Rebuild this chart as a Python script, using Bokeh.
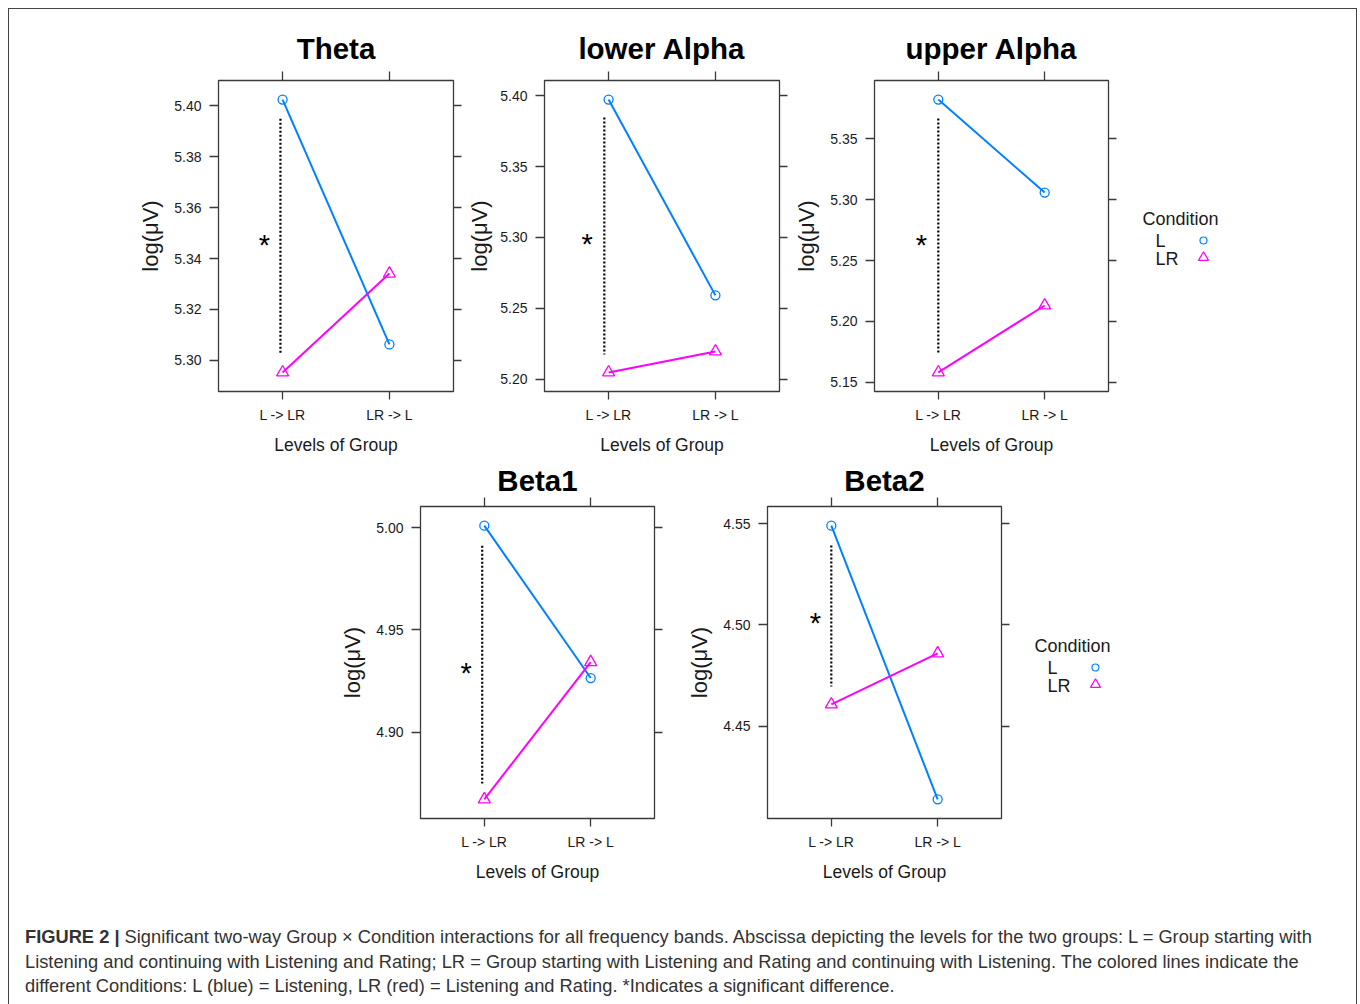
from bokeh.plotting import figure
from bokeh.layouts import row, column
from bokeh.models import Range1d, LinearAxis, FixedTicker, Spacer, Div, NumeralTickFormatter
from bokeh.embed import file_html
from bokeh.resources import INLINE
from bokeh.core.properties import value

# ---------------- data ----------------
groups = ["L -> LR", "LR -> L"]
conditions = ["L", "LR"]
bands = ["Theta", "lower Alpha", "upper Alpha", "Beta1", "Beta2"]

theta_L = [5.4024, 5.3063]
theta_LR = [5.2953, 5.3341]
lowalpha_L = [5.3972, 5.2592]
lowalpha_LR = [5.2049, 5.2197]
upalpha_L = [5.3820, 5.3057]
upalpha_LR = [5.1582, 5.2131]
beta1_L = [5.0010, 4.9265]
beta1_LR = [4.8672, 4.9343]
beta2_L = [4.5490, 4.4140]
beta2_LR = [4.4608, 4.4860]

theta_ticks = [5.30, 5.32, 5.34, 5.36, 5.38, 5.40]
lowalpha_ticks = [5.20, 5.25, 5.30, 5.35, 5.40]
upalpha_ticks = [5.15, 5.20, 5.25, 5.30, 5.35]
beta1_ticks = [4.90, 4.95, 5.00]
beta2_ticks = [4.45, 4.50, 4.55]

# significance marker: dotted span (y from, y to), its x position and the star position
sig_span = [[5.3949, 5.3024], [5.3845, 5.2176], [5.3664, 5.1730], [4.9912, 4.8750], [4.5392, 4.4697]]
sig_x = [0.98, 0.96, 1.00, 0.98, 1.00]
star_x = [0.83, 0.80, 0.84, 0.83, 0.85]
star_y = [5.347, 5.298, 5.266, 4.931, 4.503]

L_series = [theta_L, lowalpha_L, upalpha_L, beta1_L, beta2_L]
LR_series = [theta_LR, lowalpha_LR, upalpha_LR, beta1_LR, beta2_LR]
tick_sets = [theta_ticks, lowalpha_ticks, upalpha_ticks, beta1_ticks, beta2_ticks]

BLUE = "#0080ff"
MAGENTA = "#ff00ff"
FRAME = "#3a3a3a"
TXT = "#1a1a1a"
FONT = "Liberation Sans"

xs = [i + 1 for i in range(len(groups))]


def panel(i, width, height, bl, br, bt, bb, title_standoff, ylab_standoff=8):
    vals = L_series[i] + LR_series[i]
    lo, hi = min(vals), max(vals)
    pad = 0.07 * (hi - lo)
    p = figure(width=width, height=height,
               x_range=Range1d(0.4, 2.6), y_range=Range1d(lo - pad, hi + pad),
               output_backend="svg", toolbar_location=None,
               min_border_left=bl, min_border_right=br,
               min_border_top=bt, min_border_bottom=bb,
               title=bands[i],
               x_axis_label="Levels of Group", y_axis_label="log(\u03bcV)")
    p.grid.visible = False
    p.outline_line_color = FRAME
    p.outline_line_width = 1.3
    p.background_fill_color = "white"
    p.border_fill_color = "white"

    p.title.text_font = FONT
    p.title.text_font_size = "29.5px"
    p.title.text_font_style = "bold"
    p.title.text_color = "black"
    p.title.align = "center"
    p.title.standoff = title_standoff

    xt = FixedTicker(ticks=xs)
    yt = FixedTicker(ticks=tick_sets[i])

    xa = p.xaxis[0]
    xa.ticker = xt
    xa.major_label_overrides = {x: g for x, g in zip(xs, groups)}
    ya = p.yaxis[0]
    ya.ticker = yt
    ya.formatter = NumeralTickFormatter(format="0.00")

    for ax, tick_len in ((xa, 8), (ya, 9)):
        ax.axis_line_color = None
        ax.major_tick_out = tick_len
        ax.major_tick_in = 0
        ax.minor_tick_out = 0
        ax.minor_tick_in = 0
        ax.major_tick_line_color = FRAME
        ax.major_tick_line_width = 1.3
        ax.major_label_text_font = FONT
        ax.major_label_text_font_size = "14px"
        ax.major_label_text_color = TXT
        ax.axis_label_text_font = FONT
        ax.axis_label_text_font_style = "normal"
        ax.axis_label_text_color = TXT
    xa.major_label_standoff = 7
    xa.axis_label_standoff = 9
    xa.axis_label_text_font_size = "17.5px"
    ya.major_label_standoff = 8
    ya.axis_label_standoff = ylab_standoff
    ya.axis_label_text_font_size = "22px"

    # right and top ticks (no labels)
    ra = LinearAxis(ticker=yt, axis_line_color=None, major_tick_out=8, major_tick_in=0,
                    minor_tick_out=0, minor_tick_in=0, major_tick_line_color=FRAME,
                    major_tick_line_width=1.3, major_label_text_font_size="1px",
                    major_label_overrides={t: "" for t in tick_sets[i]},
                    major_label_standoff=0)
    ta = LinearAxis(ticker=xt, axis_line_color=None, major_tick_out=9, major_tick_in=0,
                    minor_tick_out=0, minor_tick_in=0, major_tick_line_color=FRAME,
                    major_tick_line_width=1.3, major_label_text_font_size="1px",
                    major_label_overrides={x: "" for x in xs},
                    major_label_standoff=0)
    p.add_layout(ra, "right")
    p.add_layout(ta, "above")

    # significance dotted line and star
    p.line(x=[sig_x[i], sig_x[i]], y=sig_span[i], line_color="black",
           line_width=2.2, line_dash="2 2")
    p.text(x=[star_x[i]], y=[star_y[i]], text=["*"], text_font=value(FONT),
           text_font_size="29px", text_align="center", text_baseline="middle",
           text_color="black", y_offset=4)

    # series
    p.line(x=xs, y=L_series[i], line_color=BLUE, line_width=2)
    p.scatter(x=xs, y=L_series[i], marker="circle", size=9, fill_color=None,
              line_color=BLUE, line_width=1.3)
    p.line(x=xs, y=LR_series[i], line_color=MAGENTA, line_width=2)
    p.scatter(x=xs, y=LR_series[i], marker="triangle", size=12, fill_color=None,
              line_color=MAGENTA, line_width=1.3)
    return p


def legend_fig(width, height, bt, bb, lx, ty):
    fh = height - bt - bb
    lf = figure(width=width, height=height, x_range=Range1d(0, width), y_range=Range1d(fh, 0),
                output_backend="svg", toolbar_location=None,
                min_border_left=0, min_border_right=0, min_border_top=bt, min_border_bottom=bb,
                x_axis_type=None, y_axis_type=None)
    lf.grid.visible = False
    lf.outline_line_color = None
    lf.text(x=[lx], y=[ty], text=["Condition"], text_font=value(FONT),
            text_font_size="18px", text_baseline="middle", text_color=TXT)
    lf.text(x=[lx + 13, lx + 13], y=[ty + 22, ty + 40], text=conditions, text_font=value(FONT),
            text_font_size="18px", text_baseline="middle", text_color=TXT)
    lf.scatter(x=[lx + 61], y=[ty + 22], marker="circle", size=7, fill_color=None,
               line_color=BLUE, line_width=1.2)
    lf.scatter(x=[lx + 61], y=[ty + 39], marker="triangle", size=10, fill_color=None,
               line_color=MAGENTA, line_width=1.2)
    return lf


H1 = 451
H2 = 430
pA = panel(0, 335, H1, 90, 10, 71, 69, 13)
pB = panel(1, 326, H1, 81, 10, 71, 69, 13, ylab_standoff=5)
pC = panel(2, 329, H1, 85, 10, 71, 69, 13)
lg1 = legend_fig(236, H1, 71, 69, 24, 138)
row1 = row(Spacer(width=119, height=H1), pA, pB, pC, lg1)

pD = panel(3, 329, H2, 85, 10, 46, 72, 1)
pE = panel(4, 347, H2, 103, 10, 46, 72, 1)
lg2 = legend_fig(343, H2, 46, 72, 23, 139)
row2 = row(Spacer(width=326, height=H2), pD, pE, lg2)

caption_html = (
    "<b>FIGURE 2 |</b> Significant two-way Group \u00d7 Condition interactions for all frequency bands. "
    "Abscissa depicting the levels for the two groups: L = Group starting with<br>"
    "Listening and continuing with Listening and Rating; LR = Group starting with Listening and Rating "
    "and continuing with Listening. The colored lines indicate the<br>"
    "different Conditions: L (blue) = Listening, LR (red) = Listening and Rating. "
    "*Indicates a significant difference."
)
caption = Div(text=caption_html, width=1347, height=112,
              styles={"font-family": FONT, "font-size": "18.3px", "line-height": "24.5px",
                      "color": "#333333", "padding-left": "11px", "padding-top": "30px",
                      "white-space": "nowrap", "box-sizing": "border-box"})

inner = column(row1, row2, caption, width=1349,
               styles={"border": "1px solid #444444", "background-color": "white"})
page = column(Spacer(width=1357, height=8), row(Spacer(width=8, height=1000), inner))

open("out.html", "w").write(file_html(page, INLINE))
